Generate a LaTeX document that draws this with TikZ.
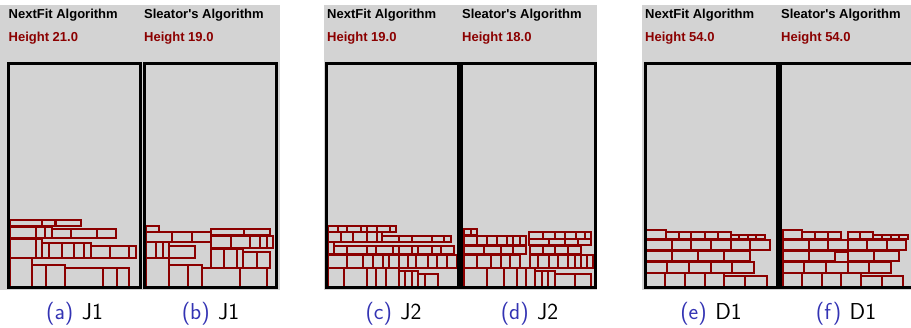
\documentclass[tikz,border=0pt]{standalone}
\usepackage{fontspec}
\newfontfamily\hdrfont{Liberation Sans}
\definecolor{pkred}{RGB}{139,0,0}
\definecolor{panelgray}{RGB}{211,211,211}
\definecolor{capblue}{RGB}{51,51,179}
\tikzset{
  pk/.style={draw=pkred, line width=1.9pt},
  strip/.style={draw=black, line width=3pt},
  hdr/.style={inner sep=0pt, anchor=base west, font=\hdrfont\bfseries\fontsize{13}{15}\selectfont},
  hgt/.style={hdr, text=pkred},
  subcap/.style={inner sep=0pt, anchor=base, font=\sffamily\fontsize{23}{27}\selectfont},
}
\newcommand{\sublabel}[2]{\textcolor{capblue}{(#1)}\hspace{8.5pt}#2}
\begin{document}
\begin{tikzpicture}[x=1pt,y=-1pt]
\useasboundingbox (0,0) rectangle (911,327);
% gray panel backgrounds
\fill[panelgray] (0,5) rectangle (280,290);
\fill[panelgray] (324,5) rectangle (597,290);
\fill[panelgray] (642,5) rectangle (911,290);

% (a) NextFit, J1
\foreach \xa/\ya/\xb/\yb in {
 10/220/42.3/225.7, 42.3/220/55/225.7, 55.7/220/81/225.7,
 10/226.7/35.7/238.3, 35.7/226.7/45/238.3, 45/226.7/51.7/238.3, 51.7/229.3/71/238.3, 71/229.3/97.3/238.3, 97.3/229.3/116.3/238.3,
 10/239/35.7/257.7, 35.7/239/42.3/257.7, 42.3/242.7/49/257.7, 49/242.7/61.7/257.7, 61.7/242.7/74.3/257.7, 74.3/242.7/84.3/257.7, 84.3/242.7/90.7/257.7, 90.7/245.7/110/257.7, 110/245.7/129.3/257.7, 129.3/245.7/136/257.7,
 10/258.3/32.3/287.3, 32.3/265/45.7/287.3, 45.7/265/65/287.3, 65/268.3/103.3/287.3, 103.3/268.3/116.7/287.3, 116.7/268.3/129.3/287.3}
 \draw[pk] (\xa,\ya) rectangle (\xb,\yb);

% (b) Sleator, J1
\foreach \xa/\ya/\xb/\yb in {
 146/226/159/231.7,
 146/232.3/171.7/241.7, 171.7/232.3/191.7/241.7, 191.7/232.3/211/241.7,
 211/229.3/244/235, 244/229.3/270/235,
 211/235.7/230.7/248.3, 230.7/235.7/250/248.3, 250/235.7/260/248.3, 260/235.7/266.7/248.3, 266.7/235.7/273.3/248.3,
 146/242.3/156/257.7, 156/242.3/162.7/257.7, 162.7/242.3/169/257.7, 169/245.7/195/257.7,
 146/258.3/169/287.3,
 169/265/188.3/287.3, 188.3/265/201.7/287.3,
 201.7/268.3/240/287.3, 240/268.3/266.7/287.3,
 211/249/224.3/268.3, 224.3/249/237.3/268.3, 237.3/249/243.3/268.3,
 243.3/251.7/256.7/268.3, 256.7/251.7/270/268.3}
 \draw[pk] (\xa,\ya) rectangle (\xb,\yb);

% (c) NextFit, J2
\foreach \xa/\xb in {328.3/338.3, 338.3/347.3, 347.3/360.7, 360.7/366.7, 366.7/376.7, 376.7/390, 390/396}
 \draw[pk] (\xa,226) rectangle (\xb,232.3);
\foreach \xa/\xb in {328.3/340.7, 340.7/353.3, 353.3/366.7, 366.7/376.7, 376.7/382.3}
 \draw[pk] (\xa,232.3) rectangle (\xb,241.7);
\foreach \xa/\xb in {382.3/399.3, 399.3/411.7, 411.7/431.7, 431.7/444, 444/450.7}
 \draw[pk] (\xa,235.7) rectangle (\xb,241.7);
\draw[pk] (328.3,242.3) rectangle (334.3,254.3);
\foreach \xa/\xb in {334.3/347.3, 347.3/366.7, 366.7/376, 376/392.7, 392.7/399, 399/411.7, 411.7/418.3, 418.3/431.7, 431.7/441, 441/454}
 \draw[pk] (\xa,245.7) rectangle (\xb,254.3);
\foreach \xa/\xb in {328.3/347.3, 347.3/363.3, 363.3/373.3, 373.3/382.7, 382.7/389.3, 389.3/399.3, 399.3/408.3, 408.3/416, 416/428.3, 428.3/437.3, 437.3/446.7, 446.7/457.3}
 \draw[pk] (\xa,255) rectangle (\xb,267.7);
\foreach \xa/\xb in {328.3/344, 344/366.7, 366.7/376, 376/386, 386/399.3}
 \draw[pk] (\xa,268.3) rectangle (\xb,287.3);
\foreach \xa/\xb in {399.3/405, 405/411.7, 411.7/418.3}
 \draw[pk] (\xa,271) rectangle (\xb,287.3);
\foreach \xa/\xb in {418.3/425, 425/437.7}
 \draw[pk] (\xa,274.3) rectangle (\xb,287.3);

% (d) Sleator, J2
\foreach \xa/\xb in {464.3/471, 471/477.3}
 \draw[pk] (\xa,229.3) rectangle (\xb,235);
\foreach \xa/\xb in {464.3/477.3, 477.3/487.3, 487.3/497.3, 497.3/506.7, 506.7/513.3, 513.3/520, 520/526}
 \draw[pk] (\xa,235.7) rectangle (\xb,245);
\foreach \xa/\xb in {464.3/484, 484/500.7, 500.7/513.3, 513.3/526}
 \draw[pk] (\xa,245.7) rectangle (\xb,254.3);
\foreach \xa/\xb in {464.3/477.3, 477.3/490.7, 490.7/500.7, 500.7/510, 510/520, 530/538.3, 538.3/549, 549/558.3, 558.3/568.3, 568.3/575, 575/581, 581/586.7, 586.7/593.3}
 \draw[pk] (\xa,255) rectangle (\xb,267.7);
\foreach \xa/\xb in {464.3/487.3, 487.3/504, 504/516.7, 516.7/526, 526/535}
 \draw[pk] (\xa,268.3) rectangle (\xb,287.3);
\foreach \xa/\xb in {535/542.3, 542.3/548.3, 548.3/555}
 \draw[pk] (\xa,271) rectangle (\xb,287.3);
\foreach \xa/\xb in {555/575, 575/591}
 \draw[pk] (\xa,274.3) rectangle (\xb,287.3);
\foreach \xa/\xb in {529.3/542.7, 542.7/555, 555/565, 565/575.7, 575.7/585, 585/591}
 \draw[pk] (\xa,232.3) rectangle (\xb,239);
\foreach \xa/\xb in {529.3/549, 549/565, 565/578.3, 578.3/591}
 \draw[pk] (\xa,239) rectangle (\xb,245);
\foreach \xa/\xb in {530/542.7, 542.7/555, 555/568.3, 568.3/581}
 \draw[pk] (\xa,245.7) rectangle (\xb,254.3);

% (e) NextFit, D1
\draw[pk] (646.3,230) rectangle (665.7,239.3);
\foreach \xa/\xb in {665.7/678.7, 678.7/691.3, 691.3/704.7, 704.7/718, 718/730.7}
 \draw[pk] (\xa,232.3) rectangle (\xb,239.3);
\foreach \xa/\xb in {730.7/738.7, 738.7/748, 748/756.3, 756.3/764.7}
 \draw[pk] (\xa,235) rectangle (\xb,239.3);
\foreach \xa/\xb in {646.3/672, 672/691.3, 691.3/711.3, 711.3/730.7, 730.7/750.3, 750.3/769.7}
 \draw[pk] (\xa,240) rectangle (\xb,250);
\foreach \xa/\xb in {646.3/672, 672/698, 698/724, 724/750.3}
 \draw[pk] (\xa,251) rectangle (\xb,261);
\foreach \xa/\xb in {646.3/667.3, 667.3/689, 689/711.3, 711.3/732.3, 732.3/754}
 \draw[pk] (\xa,261.7) rectangle (\xb,272.7);
\foreach \xa/\xb in {646.3/665.3, 665.3/685.3, 685.3/704.7, 704.7/724}
 \draw[pk] (\xa,273.3) rectangle (\xb,287.3);
\foreach \xa/\xb in {724/745.3, 745.3/767}
 \draw[pk] (\xa,276) rectangle (\xb,287.3);

% (f) Sleator, D1
\draw[pk] (783.3,230) rectangle (802.3,239.3);
\foreach \xa/\xb in {802.3/815, 815/828.3, 828.3/841, 847.7/860, 860/873.3}
 \draw[pk] (\xa,232.3) rectangle (\xb,239.3);
\foreach \xa/\xb in {873.3/881.7, 881.7/890.7, 890.7/899.3, 899.3/907.7}
 \draw[pk] (\xa,235) rectangle (\xb,239.3);
\foreach \xa/\xb in {783.3/809, 809/828.3, 828.3/847.7, 847.7/867.3, 867.3/886.7, 886.7/906}
 \draw[pk] (\xa,240) rectangle (\xb,250);
\foreach \xa/\xb in {783.3/809, 809/835, 847.7/874, 874/899.3}
 \draw[pk] (\xa,251) rectangle (\xb,261);
\draw[pk] (835,251.7) rectangle (847.7,261.7);
\foreach \xa/\xb in {783.3/804, 804/825.7, 825.7/847.7, 847.7/869, 869/890.7}
 \draw[pk] (\xa,261.7) rectangle (\xb,272.7);
\foreach \xa/\xb in {783.3/802.3, 802.3/821.7, 821.7/841, 841/860.7}
 \draw[pk] (\xa,273.3) rectangle (\xb,287.3);
\foreach \xa/\xb in {860.7/881.7, 881.7/903.3}
 \draw[pk] (\xa,276) rectangle (\xb,287.3);

% strip outlines
\draw[strip] (8.5,63) rectangle (140.5,287.5);
\draw[strip] (144.5,63) rectangle (276.5,287.5);
\draw[strip] (326,63) rectangle (458.5,287.5);
\draw[strip] (461.5,63) rectangle (595,287.5);
\draw[strip] (645,63) rectangle (777,287.5);
\draw[strip] (780,63) rectangle (913,287.5);

% headers
\node[hdr] (na) at (8.5,18.8) {NextFit Algorithm};
\node[hgt] (ha) at (8.5,41) {Height 21.0};
\node[hdr] (nb) at (144,18.8) {Sleator's Algorithm};
\node[hgt] (hb) at (144,41) {Height 19.0};
\node[hdr] (nc) at (327,18.8) {NextFit Algorithm};
\node[hgt] (hc) at (327,41) {Height 19.0};
\node[hdr] (nd) at (462,18.8) {Sleator's Algorithm};
\node[hgt] (hd) at (462,41) {Height 18.0};
\node[hdr] (ne) at (645,18.8) {NextFit Algorithm};
\node[hgt] (he) at (645,41) {Height 54.0};
\node[hdr] (nf) at (781,18.8) {Sleator's Algorithm};
\node[hgt] (hf) at (781,41) {Height 54.0};

% captions
\node[subcap] (ca) at (74.5,319.5) {\sublabel{a}{J1}};
\node[subcap] (cb) at (210.5,319.5) {\sublabel{b}{J1}};
\node[subcap] (cc) at (393.5,319.5) {\sublabel{c}{J2}};
\node[subcap] (cd) at (529.5,319.5) {\sublabel{d}{J2}};
\node[subcap] (ce) at (711,319.5) {\sublabel{e}{D1}};
\node[subcap] (cf) at (846,319.5) {\sublabel{f}{D1}};
\end{tikzpicture}
\end{document}
